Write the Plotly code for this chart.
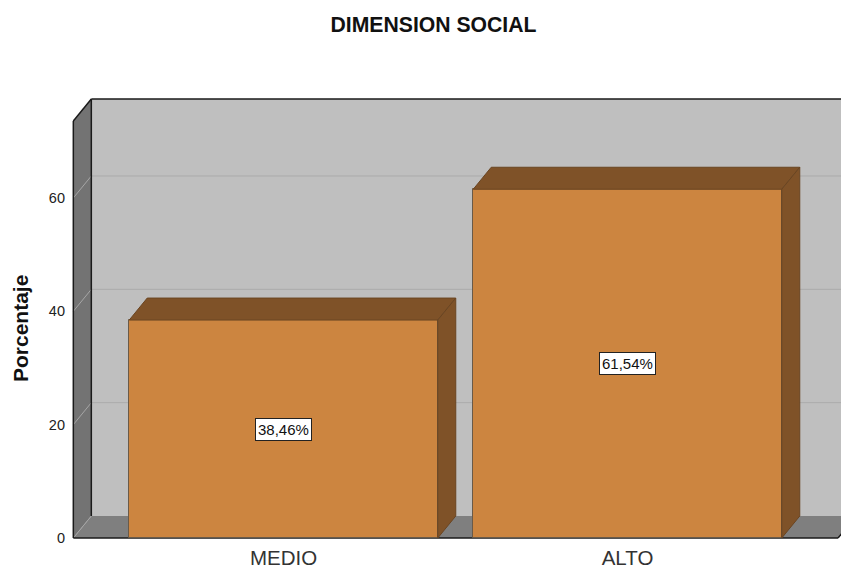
import plotly.graph_objects as go

CATEGORIES = ["MEDIO", "ALTO"]
PERCENTAGES = [38.46, 61.54]
BAR_LABELS = ["38,46%", "61,54%"]
Y_TICKS = [0, 20, 40, 60]

BAR_WIDTH = 0.897
DEPTH_X = 18 / 344
DEPTH_Y = 22 / 5.667
WALL_LEFT = -0.611
WALL_RIGHT = 1.612
WALL_TOP = 73.6

FRONT = "#CC8540"
SHADE = "#7F5228"
EDGE = "#6A4522"
FONT = "Liberation Sans, Arial, sans-serif"

positions = list(range(len(CATEGORIES)))
fig = go.Figure()

fig.add_trace(go.Bar(
    x=positions, y=PERCENTAGES, width=BAR_WIDTH, marker_color=FRONT,
    marker_line=dict(color="#6A5A48", width=1), showlegend=False, hoverinfo="skip",
))

for pos, val in zip(positions, PERCENTAGES):
    left = pos - BAR_WIDTH / 2
    right = pos + BAR_WIDTH / 2
    fig.add_trace(go.Scatter(
        x=[left, left + DEPTH_X, right + DEPTH_X, right, left],
        y=[val, val + DEPTH_Y, val + DEPTH_Y, val, val],
        mode="lines", fill="toself", fillcolor=SHADE,
        line=dict(color=EDGE, width=1), showlegend=False, hoverinfo="skip",
    ))
    fig.add_trace(go.Scatter(
        x=[right, right + DEPTH_X, right + DEPTH_X, right, right],
        y=[val, val + DEPTH_Y, DEPTH_Y, 0, val],
        mode="lines", fill="toself", fillcolor=SHADE,
        line=dict(color=EDGE, width=1), showlegend=False, hoverinfo="skip",
    ))

shapes = []


def poly(points, fill, line_color=None, line_width=0):
    path = "M " + " L ".join(f"{a},{b}" for a, b in points) + " Z"
    shapes.append(dict(type="path", path=path, xref="x", yref="y", layer="below",
                       fillcolor=fill, line=dict(color=line_color or fill, width=line_width)))


def seg(x0, y0, x1, y1, color, width):
    shapes.append(dict(type="line", x0=x0, y0=y0, x1=x1, y1=y1, xref="x", yref="y",
                       layer="below", line=dict(color=color, width=width)))


back_l = WALL_LEFT + DEPTH_X
back_r = WALL_RIGHT + DEPTH_X
back_t = WALL_TOP + DEPTH_Y
poly([(back_l, DEPTH_Y), (back_l, back_t), (back_r, back_t), (back_r, DEPTH_Y)], "#BFBFBF")
poly([(WALL_LEFT, 0), (WALL_LEFT, WALL_TOP), (back_l, back_t), (back_l, DEPTH_Y)], "#737373")
poly([(WALL_LEFT, 0), (back_l, DEPTH_Y), (back_r, DEPTH_Y), (WALL_RIGHT, 0)], "#7F7F7F")
for tick in Y_TICKS[1:]:
    seg(WALL_LEFT, tick, back_l, tick + DEPTH_Y, "#A6A6A6", 1)
    seg(back_l, tick + DEPTH_Y, back_r, tick + DEPTH_Y, "#ABABAB", 1)
seg(WALL_LEFT, 0, back_l, DEPTH_Y, "#A6A6A6", 1)
seg(WALL_LEFT, 0, WALL_LEFT, WALL_TOP, "#1A1A1A", 1.5)
seg(WALL_LEFT, WALL_TOP, back_l, back_t, "#1A1A1A", 1.5)
seg(back_l, back_t, back_r, back_t, "#1A1A1A", 1.5)
seg(back_l, DEPTH_Y, back_l, back_t, "#1A1A1A", 1.5)
seg(WALL_LEFT, 0, WALL_RIGHT, 0, "#1A1A1A", 1.5)
seg(WALL_RIGHT, 0, back_r, DEPTH_Y, "#1A1A1A", 1.5)

annotations = [
    dict(x=pos, y=val / 2, xref="x", yref="y", text=label, showarrow=False,
         font=dict(family=FONT, size=15, color="#111111"),
         bgcolor="white", bordercolor="#222222", borderwidth=1, borderpad=2)
    for pos, val, label in zip(positions, PERCENTAGES, BAR_LABELS)
]
# Paper coordinates run over the plot area (x 70-841, y 90-542 in pixels).
annotations.append(dict(
    x=(20 - 70) / 771, y=(542 - 328) / 452, xref="paper", yref="paper",
    xanchor="center", yanchor="middle",
    text="<b>Porcentaje</b>", textangle=-90, showarrow=False,
    font=dict(family=FONT, size=21, color="#111111"),
))

fig.update_layout(
    width=841, height=567, autosize=False,
    margin=dict(l=70, r=0, t=90, b=25, pad=0, autoexpand=False),
    paper_bgcolor="white", plot_bgcolor="white",
    showlegend=False, bargap=0,
    shapes=shapes, annotations=annotations,
    title=dict(text="<b>DIMENSION SOCIAL</b>", x=433.5 / 841, xanchor="center",
               y=1 - 25 / 567, yanchor="middle",
               font=dict(family=FONT, size=21.2, color="#111111")),
    xaxis=dict(range=[(70 - 283.5) / 344, (841 - 283.5) / 344], tickmode="array",
               tickvals=positions, ticktext=CATEGORIES, showgrid=False, zeroline=False,
               ticks="", showline=False, ticklabelstandoff=1, automargin=False,
               tickfont=dict(family=FONT, size=20.5, color="#333333")),
    yaxis=dict(range=[-4 / 5.667, 448 / 5.667], tickmode="array", tickvals=Y_TICKS,
               showgrid=False, zeroline=False, ticks="", showline=False,
               ticklabelstandoff=4, automargin=False,
               tickfont=dict(family=FONT, size=14.5, color="#222222")),
)

fig.write_html("out.html", config={"displayModeBar": False},
               post_script="document.body.style.margin='0';")
